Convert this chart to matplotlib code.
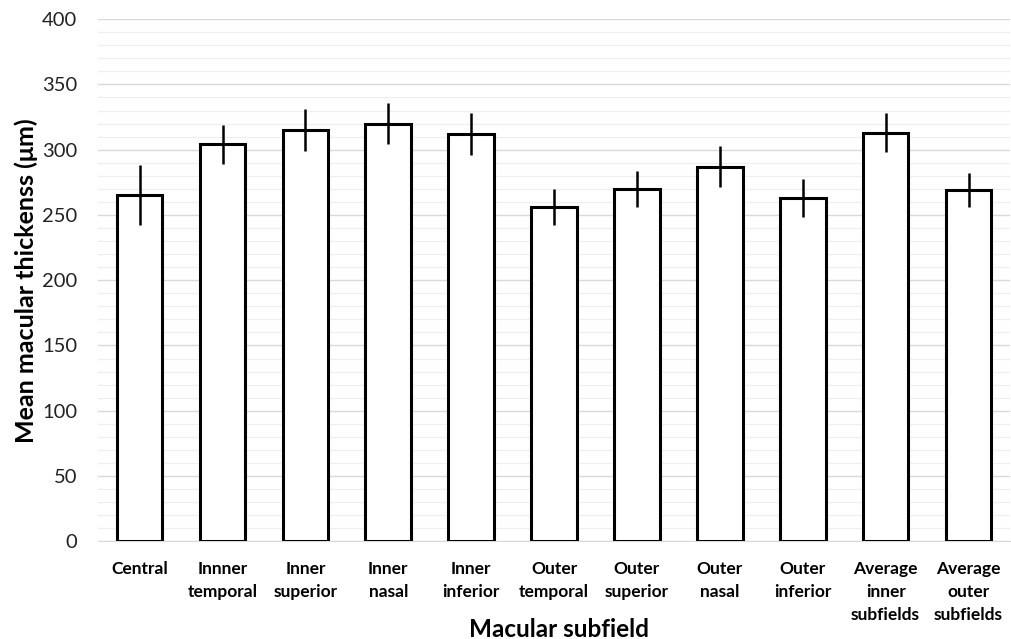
import matplotlib.pyplot as plt
import numpy as np

subfields = ["Central", "Innner\ntemporal", "Inner\nsuperior", "Inner\nnasal",
             "Inner\ninferior", "Outer\ntemporal", "Outer\nsuperior", "Outer\nnasal",
             "Outer\ninferior", "Average\ninner\nsubfields", "Average\nouter\nsubfields"]
mean_thickness = [265, 304, 315, 320, 312, 256, 270, 287, 263, 313, 269]
sd_thickness = [23, 15, 16, 16, 16, 14, 14, 15.5, 14.5, 15, 13]

plt.rcParams["font.family"] = ["Lato", "DejaVu Sans"]

fig = plt.figure(figsize=(10.12, 6.39), dpi=100)
ax = fig.add_axes([0.097, 0.153, 0.901, 0.817])

x = np.arange(len(subfields))
ax.bar(x, mean_thickness, width=0.55, color="white", edgecolor="black",
       linewidth=2.2, zorder=3)
ax.errorbar(x, mean_thickness, yerr=sd_thickness, fmt="none", ecolor="black",
            elinewidth=1.8, capsize=0, zorder=4)

ax.set_ylim(0, 400)
ax.set_xlim(-0.5, len(subfields) - 0.5)
ax.set_yticks(np.arange(0, 401, 50))
ax.set_yticks(np.arange(0, 401, 10), minor=True)
ax.grid(axis="y", which="major", color="#d9d9d9", linewidth=1.0, zorder=0)
ax.grid(axis="y", which="minor", color="#efefef", linewidth=0.9, zorder=0)
ax.tick_params(axis="y", which="both", length=0, labelsize=14.5, pad=15,
               labelcolor="#222222")
ax.tick_params(axis="x", length=0, pad=14)

ax.set_xticks(x)
ax.set_xticklabels(subfields, fontsize=12.5, fontweight="bold", linespacing=1.55)

for side in ["top", "right", "left"]:
    ax.spines[side].set_visible(False)
ax.spines["bottom"].set_color("#d9d9d9")

ax.set_ylabel("Mean macular thickenss (\u03bcm)", fontsize=18, fontweight="bold",
              labelpad=3)
ax.set_xlabel("Macular subfield", fontsize=17.5, fontweight="bold")
ax.xaxis.set_label_coords(0.505, -0.147)

fig.savefig("out.png", dpi=100, facecolor="white")
